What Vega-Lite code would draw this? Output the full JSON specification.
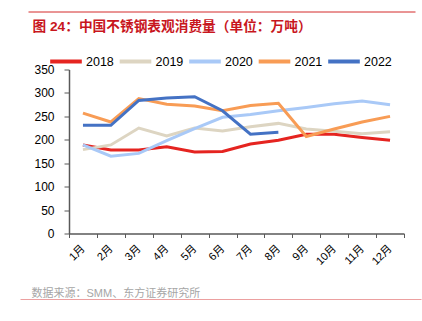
{
  "$schema": "https://vega.github.io/schema/vega-lite/v6.json",
  "padding": {"left": 17, "top": 11.5, "right": 4, "bottom": 0},
  "spacing": 0,
  "bounds": "flush",
  "resolve": {"scale": {"color": "independent"}, "legend": {"color": "independent"}},
  "config": {
    "font": "Liberation Sans, Noto Sans CJK SC",
    "view": {"stroke": null}
  },
  "vconcat": [
    {
      "width": 335,
      "height": 57.5,
      "data": {"values": [{"v": 0}]},
      "mark": {"type": "point", "opacity": 0},
      "encoding": {
        "x": {
          "field": "v", "type": "quantitative", "scale": {"domain": [0, 1], "range": [-41, 346]},
          "axis": {
            "orient": "top", "domain": true, "domainColor": "#d42a2a", "domainWidth": 1,
            "ticks": false, "labels": false, "grid": false,
            "title": "图 24：中国不锈钢表观消费量（单位：万吨）",
            "titleColor": "#c8161d", "titleFontSize": 13.7, "titleFontWeight": "bold",
            "titleX": -37, "titleY": 7.5, "titleAlign": "left", "titleBaseline": "top", "titleAnchor": "start"
          }
        },
        "y": {
          "field": "v", "type": "quantitative",
          "axis": {"domain": false, "ticks": false, "labels": false, "grid": false, "title": null}
        }
      }
    },
    {
      "width": 335,
      "height": 164,
      "data": {"values": [
        {"month": "1月", "year": "2018", "value": 189},
        {"month": "2月", "year": "2018", "value": 178},
        {"month": "3月", "year": "2018", "value": 178},
        {"month": "4月", "year": "2018", "value": 185},
        {"month": "5月", "year": "2018", "value": 174},
        {"month": "6月", "year": "2018", "value": 175},
        {"month": "7月", "year": "2018", "value": 191},
        {"month": "8月", "year": "2018", "value": 199},
        {"month": "9月", "year": "2018", "value": 212},
        {"month": "10月", "year": "2018", "value": 212},
        {"month": "11月", "year": "2018", "value": 205},
        {"month": "12月", "year": "2018", "value": 199},
        {"month": "1月", "year": "2019", "value": 179},
        {"month": "2月", "year": "2019", "value": 189},
        {"month": "3月", "year": "2019", "value": 225},
        {"month": "4月", "year": "2019", "value": 208},
        {"month": "5月", "year": "2019", "value": 225},
        {"month": "6月", "year": "2019", "value": 219},
        {"month": "7月", "year": "2019", "value": 228},
        {"month": "8月", "year": "2019", "value": 235},
        {"month": "9月", "year": "2019", "value": 223},
        {"month": "10月", "year": "2019", "value": 218},
        {"month": "11月", "year": "2019", "value": 213},
        {"month": "12月", "year": "2019", "value": 217},
        {"month": "1月", "year": "2020", "value": 189},
        {"month": "2月", "year": "2020", "value": 165},
        {"month": "3月", "year": "2020", "value": 171},
        {"month": "4月", "year": "2020", "value": 198},
        {"month": "5月", "year": "2020", "value": 224},
        {"month": "6月", "year": "2020", "value": 248},
        {"month": "7月", "year": "2020", "value": 254},
        {"month": "8月", "year": "2020", "value": 262},
        {"month": "9月", "year": "2020", "value": 269},
        {"month": "10月", "year": "2020", "value": 277},
        {"month": "11月", "year": "2020", "value": 283},
        {"month": "12月", "year": "2020", "value": 275},
        {"month": "1月", "year": "2021", "value": 257},
        {"month": "2月", "year": "2021", "value": 238},
        {"month": "3月", "year": "2021", "value": 288},
        {"month": "4月", "year": "2021", "value": 276},
        {"month": "5月", "year": "2021", "value": 272},
        {"month": "6月", "year": "2021", "value": 262},
        {"month": "7月", "year": "2021", "value": 273},
        {"month": "8月", "year": "2021", "value": 278},
        {"month": "9月", "year": "2021", "value": 207},
        {"month": "10月", "year": "2021", "value": 223},
        {"month": "11月", "year": "2021", "value": 238},
        {"month": "12月", "year": "2021", "value": 250},
        {"month": "1月", "year": "2022", "value": 231},
        {"month": "2月", "year": "2022", "value": 231},
        {"month": "3月", "year": "2022", "value": 284},
        {"month": "4月", "year": "2022", "value": 289},
        {"month": "5月", "year": "2022", "value": 292},
        {"month": "6月", "year": "2022", "value": 262},
        {"month": "7月", "year": "2022", "value": 212},
        {"month": "8月", "year": "2022", "value": 216}
      ]},
      "mark": {"type": "line", "strokeWidth": 3},
      "encoding": {
        "x": {
          "field": "month", "type": "ordinal",
          "sort": ["1月","2月","3月","4月","5月","6月","7月","8月","9月","10月","11月","12月"],
          "scale": {"type": "band", "paddingInner": 0, "paddingOuter": 0},
          "axis": {
            "title": null, "labelAngle": -45, "labelAlign": "right", "labelBaseline": "middle",
            "labelFontSize": 11, "labelColor": "#000000", "labelPadding": 9,
            "tickBand": "extent", "tickSize": 4, "tickColor": "#595959",
            "domainColor": "#595959", "domainWidth": 1.5, "grid": false
          }
        },
        "y": {
          "field": "value", "type": "quantitative",
          "scale": {"domain": [0, 350]},
          "axis": {
            "title": null, "values": [0, 50, 100, 150, 200, 250, 300, 350],
            "labelFontSize": 12, "labelColor": "#000000", "labelPadding": 10,
            "tickSize": 5, "tickColor": "#595959", "domainColor": "#595959", "domainWidth": 1.5,
            "grid": false
          }
        },
        "color": {
          "field": "year", "type": "nominal",
          "scale": {
            "domain": ["2018", "2019", "2020", "2021", "2022"],
            "range": ["#e52420", "#ddd5c2", "#a9c9f7", "#f89c55", "#4472c4"]
          },
          "legend": {
            "orient": "none", "legendX": -21, "legendY": -26, "direction": "horizontal",
            "title": null, "symbolType": "stroke", "symbolSize": 1000, "symbolStrokeWidth": 4,
            "labelFontSize": 12.5, "labelColor": "#000000", "labelOffset": 2, "columnPadding": -2.5
          }
        }
      }
    },
    {
      "width": 335,
      "height": 66,
      "data": {"values": [{"v": 0}]},
      "mark": {"type": "point", "opacity": 0},
      "encoding": {
        "x": {
          "field": "v", "type": "quantitative", "scale": {"domain": [0, 1], "range": [-49, 352]},
          "axis": {
            "orient": "bottom", "domain": true, "domainColor": "#d84040", "domainWidth": 1,
            "ticks": false, "labels": false, "grid": false,
            "title": "数据来源：SMM、东方证券研究所",
            "titleColor": "#a6a6a6", "titleFontSize": 11, "titleFontWeight": "normal",
            "titleX": -38, "titleY": -3.5, "titleAlign": "left", "titleBaseline": "alphabetic", "titleAnchor": "start"
          }
        },
        "y": {
          "field": "v", "type": "quantitative",
          "axis": {"domain": false, "ticks": false, "labels": false, "grid": false, "title": null}
        }
      }
    }
  ]
}
